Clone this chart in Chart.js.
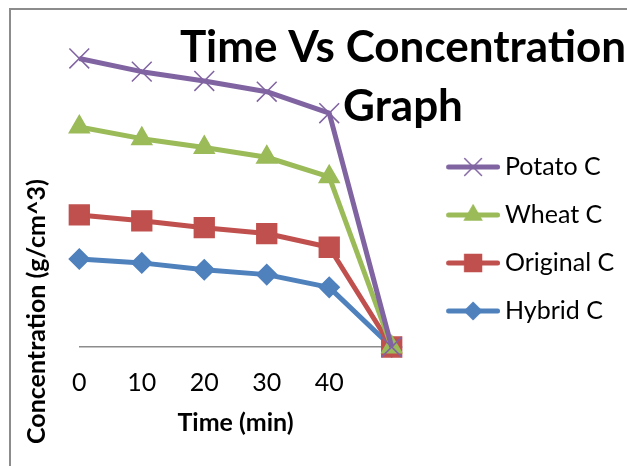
<!DOCTYPE html>
<html>
<head>
<meta charset="utf-8">
<script src="https://cdn.jsdelivr.net/npm/chart.js@4.4.1/dist/chart.umd.min.js"></script>
<style>
  html, body { margin: 0; padding: 0; background: #fff; overflow: hidden; }
  #wrap { position: relative; width: 627px; height: 466px; overflow: hidden; }
  #myChart { position: absolute; left: 0; top: 0; }
  #frame { position: absolute; left: 9px; top: 8px; width: 700px; height: 600px;
           border-left: 2px solid #8c8c8c; border-top: 2px solid #8c8c8c; pointer-events: none; }
</style>
</head>
<body>
<div id="wrap">
  <canvas id="myChart" width="627" height="466"></canvas>
  <div id="frame"></div>
</div>
<script>
// chart values
const times = ['0', '10', '20', '30', '40', ''];
const seriesNames = ['Potato C', 'Wheat C', 'Original C', 'Hybrid C'];
const potato = [2.95, 2.815, 2.72, 2.61, 2.39, 0];
const wheat = [2.25, 2.13, 2.04, 1.94, 1.74, 0];
const original = [1.35, 1.29, 1.22, 1.16, 1.02, 0];
const hybrid = [0.90, 0.86, 0.79, 0.74, 0.61, 0];
const titleLines = ['Time Vs Concentration', 'Graph'];
const yTitle = 'Concentration (g/cm^3)';

const colors = ['#8064A2', '#9BBB59', '#C0504D', '#4F81BD'];
const markers = ['crossRot', 'triangle', 'rect', 'rectRot'];
const markerSize = [14, 11.5, 14, 10];
const values = [potato, wheat, original, hybrid];

// small line + marker picture used as legend symbol
function legendIcon(color, style, radius) {
  const c = document.createElement('canvas');
  c.width = 93;
  c.height = 30;
  const g = c.getContext('2d');
  g.strokeStyle = color;
  g.fillStyle = color;
  g.lineWidth = 5;
  g.lineCap = 'round';
  g.beginPath();
  g.moveTo(41.5, 15);
  g.lineTo(90.5, 15);
  g.stroke();
  g.lineWidth = 1.5;
  Chart.helpers.drawPoint(g, { pointStyle: style, radius: radius, borderWidth: 1.5, rotation: 0 }, 66, 15);
  return c;
}
const icons = colors.map((c, i) => legendIcon(c, markers[i], markerSize[i] * 0.85));

// legend width = padding + symbol + gap + text + 10; pick the right padding
// so that the plot ends at x = 391.7 where the legend box starts
const meas = document.createElement('canvas').getContext('2d');
meas.font = '25px Lato';
const widest = Math.max(...seriesNames.map(n => meas.measureText(n).width));
const rightPad = Math.max(0, 627 - 391.7 - (23 + 77.8 + 12.5 + widest + 10));

// big title (over the plot) and the rotated y title
const chartTexts = {
  id: 'chartTexts',
  afterDraw(chart) {
    const c = chart.ctx;
    c.save();
    c.fillStyle = '#000';
    c.font = 'bold 44px Lato';
    c.textAlign = 'center';
    c.textBaseline = 'alphabetic';
    titleLines.forEach((t, i) => c.fillText(t, 403, 62 + i * 59));

    c.translate(37, 444);
    c.rotate(-Math.PI / 2);
    c.font = 'bold 25px Lato';
    c.textAlign = 'left';
    c.textBaseline = 'middle';
    c.fillText(yTitle, 0, 0);
    c.restore();
  }
};

Chart.defaults.font.family = 'Lato';
Chart.defaults.color = '#000';

const ctx = document.getElementById('myChart');

new Chart(ctx, {
  type: 'line',
  data: {
    labels: times,
    datasets: seriesNames.map((name, i) => ({
      label: name,
      data: values[i],
      borderColor: colors[i],
      backgroundColor: colors[i],
      borderWidth: 5,
      borderJoinStyle: 'round',
      tension: 0,
      pointStyle: markers[i],
      pointRadius: markerSize[i],
      pointBorderWidth: 1.5,
      pointBackgroundColor: colors[i],
      pointBorderColor: colors[i],
      clip: false
    }))
  },
  options: {
    responsive: false,
    animation: false,
    events: [],
    layout: {
      padding: { top: 34, bottom: 22, left: 79.3, right: rightPad }
    },
    scales: {
      x: {
        grid: { display: false, tickLength: 16.4 },
        border: { display: true, color: '#8c8c8c', width: 1.5 },
        ticks: { color: '#000', font: { size: 25 }, padding: 5, maxRotation: 0, autoSkip: false },
        title: {
          display: true,
          text: 'Time (min)',
          color: '#000',
          font: { size: 25, weight: 'bold' },
          padding: { top: 4.8, bottom: 5.8 }
        }
      },
      y: {
        display: false,
        min: 0,
        max: 3.2
      }
    },
    plugins: {
      legend: {
        position: 'right',
        labels: {
          usePointStyle: true,
          pointStyleWidth: 77.8,
          padding: 23,
          color: '#000',
          font: { size: 25 },
          generateLabels(chart) {
            const items = Chart.defaults.plugins.legend.labels.generateLabels(chart);
            items.forEach((it, i) => { it.pointStyle = icons[i]; });
            return items;
          }
        }
      },
      tooltip: { enabled: false }
    }
  },
  plugins: [chartTexts]
});
</script>
</body>
</html>
